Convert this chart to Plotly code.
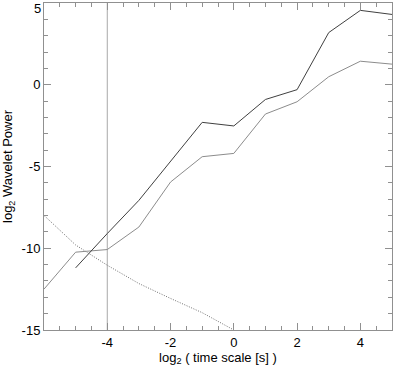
import plotly.graph_objects as go

upper_x = [-5, -4, -3, -2, -1, 0, 1, 2, 3, 4, 5]
upper_y = [-11.2, -9.1, -7.07, -4.7, -2.3, -2.52, -0.9, -0.3, 3.19, 4.55, 4.3]

lower_x = [-6, -5, -4, -3, -2, -1, 0, 1, 2, 3, 4, 5]
lower_y = [-12.5, -10.24, -10.08, -8.7, -5.95, -4.4, -4.2, -1.79, -1.04, 0.49, 1.44, 1.26]

noise_x = [-6, -5, -4, -3, -2, -1, 0]
noise_y = [-7.99, -9.8, -11.04, -12.16, -13.07, -13.94, -15.0]

marker_x = -4
x_ticks = [-4, -2, 0, 2, 4]
x_labels = ["-4", "-2", "0", "2", "4"]
y_ticks = [5, 0, -5, -10, -15]
y_labels = ["", "0", "-5", "-10", "-15"]
y_top_label = "5"

fig = go.Figure()
fig.add_trace(go.Scatter(x=[marker_x, marker_x], y=[-15, 5], mode="lines",
                         line=dict(color="#a8a8a8", width=1), showlegend=False))
fig.add_trace(go.Scatter(x=noise_x, y=noise_y, mode="lines",
                         line=dict(color="#707070", width=1, dash="1px,1.5px"), showlegend=False))
fig.add_trace(go.Scatter(x=lower_x, y=lower_y, mode="lines",
                         line=dict(color="#8c8c8c", width=1), showlegend=False))
fig.add_trace(go.Scatter(x=upper_x, y=upper_y, mode="lines",
                         line=dict(color="#404040", width=1), showlegend=False))

font = dict(family="Liberation Sans, Arial", size=13, color="#000")
axis_common = dict(showgrid=False, zeroline=False, showline=True, linecolor="#909090",
                   linewidth=1, mirror="allticks", ticks="inside", ticklen=7,
                   tickcolor="#909090", tickwidth=1, tickfont=font,
                   ticklabeloverflow="allow", automargin=False)

fig.update_xaxes(range=[-6, 5], tickmode="array", tickvals=x_ticks, ticktext=x_labels,
                 minor=dict(dtick=0.5, ticks="inside", ticklen=4, tickcolor="#909090"),
                 title=dict(text="log<sub>2</sub> ( time scale [s] )", font=font, standoff=2),
                 **axis_common)
fig.update_yaxes(range=[-15, 5], tickmode="array", tickvals=y_ticks, ticktext=y_labels,
                 minor=dict(dtick=1, ticks="inside", ticklen=4, tickcolor="#909090"),
                 title=dict(text="log<sub>2</sub> Wavelet Power", font=font, standoff=6),
                 **axis_common)

fig.add_annotation(text=y_top_label, xref="paper", x=0, yref="y", y=y_ticks[0],
                   xanchor="right", yanchor="top", xshift=-2, yshift=3,
                   showarrow=False, font=font, borderpad=0)

fig.update_layout(width=393, height=367, margin=dict(l=44, r=1, t=3, b=37),
                  plot_bgcolor="white", paper_bgcolor="white")

fig.write_html("out.html", config={"displayModeBar": False},
               post_script="document.body.style.margin='0';")
